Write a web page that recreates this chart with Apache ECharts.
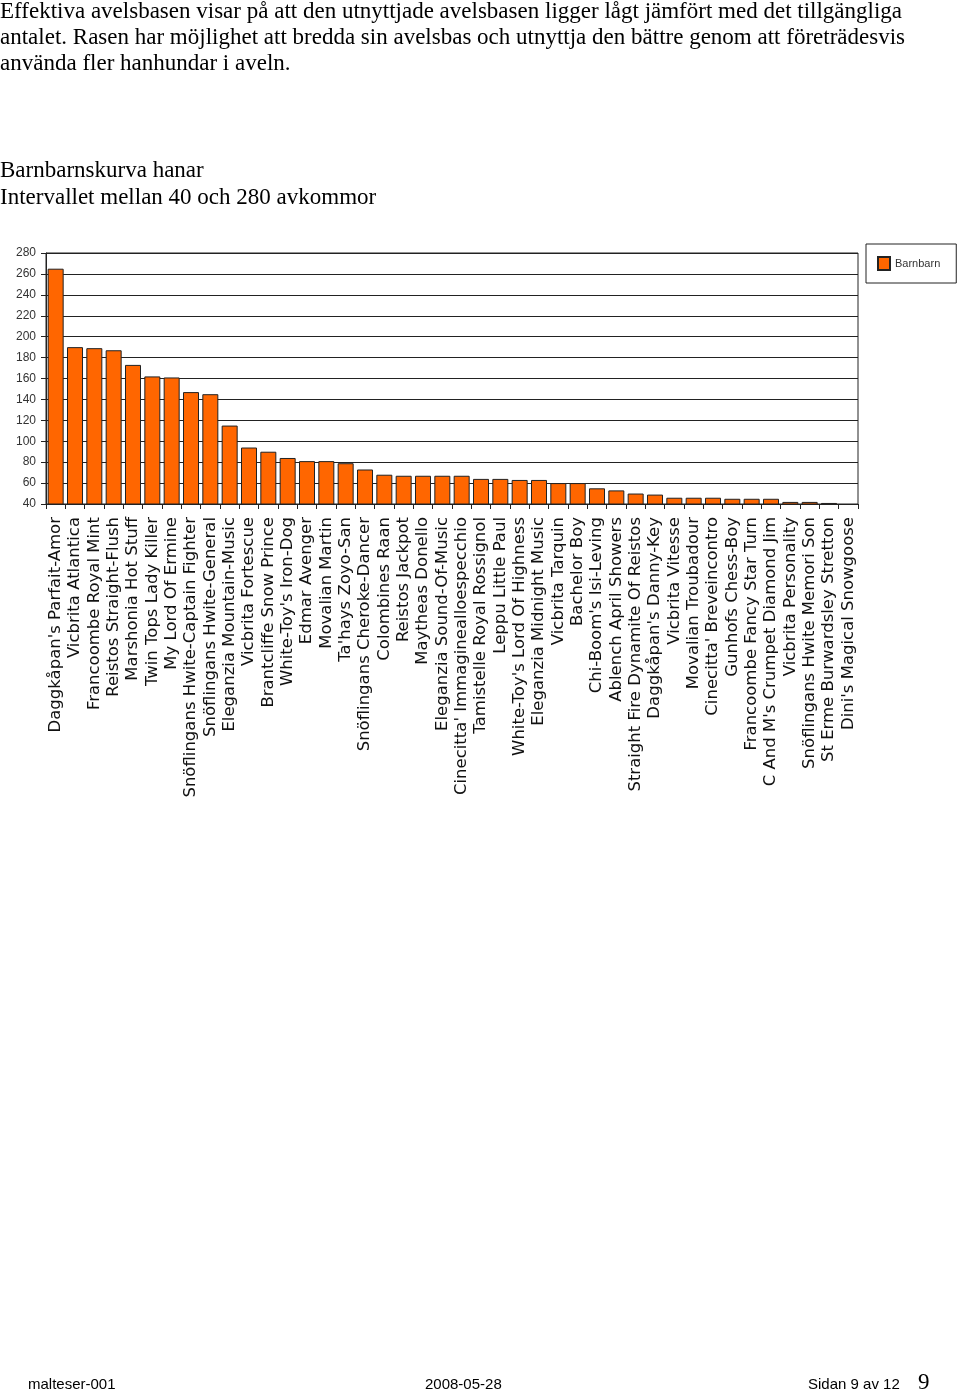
<!DOCTYPE html>
<html>
<head>
<meta charset="utf-8">
<script src="https://cdn.jsdelivr.net/npm/echarts@6/dist/echarts.min.js"></script>
<style>
html,body{margin:0;padding:0;background:#fff;}
#wrap{position:relative;width:960px;height:1392px;overflow:hidden;}
#chart{position:absolute;left:0;top:0;width:960px;height:1392px;}
.t{position:absolute;left:0;white-space:nowrap;font-family:"Liberation Serif","Times New Roman",serif;font-size:23px;color:#000;line-height:26px;}
.f{position:absolute;white-space:nowrap;font-family:"Liberation Sans",Arial,sans-serif;font-size:15px;color:#000;}
</style>
</head>
<body>
<div id="wrap">
<div id="chart"></div>
<div class="t" style="top:-2px;">Effektiva avelsbasen visar på att den utnyttjade avelsbasen ligger lågt jämfört med det tillgängliga</div>
<div class="t" style="top:24px;">antalet. Rasen har möjlighet att bredda sin avelsbas och utnyttja den bättre genom att företrädesvis</div>
<div class="t" style="top:50px;">använda fler hanhundar i aveln.</div>
<div class="t" style="top:157px;">Barnbarnskurva hanar</div>
<div class="t" style="top:184px;">Intervallet mellan 40 och 280 avkommor</div>
<div class="f" style="left:28px;top:1375px;">malteser-001</div>
<div class="f" style="left:425px;top:1375px;">2008-05-28</div>
<div class="f" style="left:808px;top:1375px;">Sidan 9 av 12</div>
<div class="t" style="left:918px;top:1369px;font-size:23px;">9</div>
</div>
<script>
const categories = [
  "Daggkåpan's Parfait-Amor","Vicbrita Atlantica","Francoombe Royal Mint","Reistos Straight-Flush",
  "Marshonia Hot Stuff","Twin Tops Lady Killer","My Lord Of Ermine","Snöflingans Hwite-Captain Fighter",
  "Snöflingans Hwite-General","Eleganzia Mountain-Music","Vicbrita Fortescue","Brantcliffe Snow Prince",
  "White-Toy's Iron-Dog","Edmar Avenger","Movalian Martin","Ta'hays Zoyo-San",
  "Snöflingans Cheroke-Dancer","Colombines Raan","Reistos Jackpot","Maytheas Donello",
  "Eleganzia Sound-Of-Music","Cinecitta' Immaginealloespecchio","Tamistelle Royal Rossignol","Leppu Little Paul",
  "White-Toy's Lord Of Highness","Eleganzia Midnight Music","Vicbrita Tarquin","Bachelor Boy",
  "Chi-Boom's Isi-Leving","Ablench April Showers","Straight Fire Dynamite Of Reistos","Daggkåpan's Danny-Key",
  "Vicbrita Vitesse","Movalian Troubadour","Cinecitta' Breveincontro","Gunhofs Chess-Boy",
  "Francoombe Fancy Star Turn","C And M's Crumpet Diamond Jim","Vicbrita Personality","Snöflingans Hwite Memori Son",
  "St Erme Burwardsley Stretton","Dini's Magical Snowgoose"
];
const barnbarn = [
  265,190,189,187,173,162,161,147,145,115,94,90,84,81,81,79,73,68,67,67,67,67,64,64,63,63,60,60,
  55,53,50,49,46,46,46,45,45,45,42,42,41,40
];
const yMin = 40, yMax = 280, yStep = 20;
const seriesName = "Barnbarn";

const chart = echarts.init(document.getElementById('chart'), null, {renderer:'canvas'});
chart.setOption({
  animation:false,
  backgroundColor:'#fff',
  grid:{left:46,right:102,top:253,bottom:888,show:true,borderColor:'#222',borderWidth:1,containLabel:false},
  legend:{
    data:[seriesName], left:866, top:244, orient:'vertical',
    borderColor:'#222', borderWidth:1, padding:[12,16,12,11],
    itemWidth:12, itemHeight:13, icon:'rect',
    textStyle:{fontFamily:'"Liberation Sans",Arial,sans-serif',fontSize:11,color:'#333'}
  },
  xAxis:{
    type:'category', data:categories, boundaryGap:true,
    axisLine:{show:true,lineStyle:{color:'#222',width:1}},
    axisTick:{show:true,alignWithLabel:false,length:5,lineStyle:{color:'#222'}},
    axisLabel:{interval:0,rotate:90,margin:13,fontFamily:'"DejaVu Sans",Verdana,sans-serif',fontSize:16.5,color:'#111'}
  },
  yAxis:{
    type:'value', min:yMin, max:yMax, interval:yStep,
    axisLine:{show:true,lineStyle:{color:'#222',width:1}},
    axisTick:{show:true,length:5,lineStyle:{color:'#222'}},
    splitLine:{show:true,lineStyle:{color:'#222',width:1}},
    axisLabel:{margin:10,fontFamily:'"Liberation Sans",Arial,sans-serif',fontSize:12,color:'#333'}
  },
  series:[{
    name:seriesName, type:'bar', data:barnbarn, barWidth:16,
    itemStyle:{color:'#ff6600',borderColor:'#222',borderWidth:1}
  }]
});
</script>
</body>
</html>
